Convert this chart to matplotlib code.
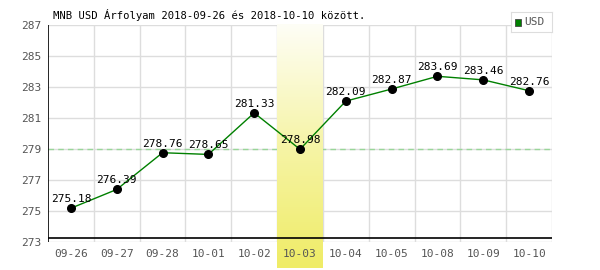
import numpy as np
import matplotlib
matplotlib.use('Agg')
import matplotlib.pyplot as plt
from matplotlib.colors import LinearSegmentedColormap

# Árfolyam adatok
dates = ['09-26', '09-27', '09-28', '10-01', '10-02', '10-03',
         '10-04', '10-05', '10-08', '10-09', '10-10']
usd = [275.18, 276.39, 278.76, 278.65, 281.33, 278.98,
       282.09, 282.87, 283.69, 283.46, 282.76]
yticks = [273, 275, 277, 279, 281, 283, 285, 287]
highlight = '10-03'
ref_level = 279

plt.rcParams['font.family'] = ['DejaVu Sans Mono']
FS = 7.6

fig = plt.figure(figsize=(6, 2.7), dpi=100)
ax = fig.add_axes([48/600, 1 - 242/270, 504/600, 217/270])

x = np.arange(len(dates))
ax.set_xlim(-0.5, len(dates) - 0.5)
ax.set_ylim(273, 287)

# rács
for yv in yticks:
    ax.axhline(yv, color='#dddddd', lw=1, zorder=1)
for i in range(len(dates)):
    ax.axvline(i + 0.5, color='#dddddd', lw=1, zorder=1)
ax.axhline(ref_level, color='#99d699', lw=1, ls=(0, (4, 3)), zorder=1.2)

# kiemelt nap sávja (színátmenet), a rács fölött
hi = dates.index(highlight)
cmap = LinearSegmentedColormap.from_list('hl', ['#fefef6', '#f6f4a6', '#efec66'])
grad = np.linspace(0, 1, 256).reshape(-1, 1)
ax.imshow(grad, cmap=cmap, aspect='auto', origin='upper',
          extent=(hi - 0.5, hi + 0.5, 271.3, 287), zorder=1.5, clip_on=False)

ax.axhline(273.25, color='black', lw=1.2, zorder=3)
ax.axvline(-0.5, color='black', lw=1.2, zorder=3)

for s in ax.spines.values():
    s.set_visible(False)

ax.plot(x, usd, color='#008000', lw=1, zorder=4)
ax.plot(x, usd, 'o', color='black', ms=5.5, zorder=5, label='USD')
for xi, v in zip(x, usd):
    ax.annotate(f'{v:.2f}', (xi, v), xytext=(0, 3), textcoords='offset points',
                ha='center', va='bottom', fontsize=FS + 0.4, color='black', zorder=6)

ax.set_xticks(x)
ax.set_xticklabels(dates)
ax.set_yticks(yticks)
ax.tick_params(length=0, labelsize=FS + 0.4, labelcolor='#555555', pad=5)

fig.text(53/600, 1 - 15/270, 'MNB USD Árfolyam 2018-09-26 és 2018-10-10 között.',
         fontsize=FS, va='center', ha='left', color='black')

# jelmagyarázat
leg_ax = fig.add_axes([511/600, 1 - 32/270, 41/600, 20/270])
leg_ax.set_xticks([])
leg_ax.set_yticks([])
for s in leg_ax.spines.values():
    s.set_color('#dddddd')
leg_ax.set_xlim(0, 41)
leg_ax.set_ylim(0, 20)
leg_ax.add_patch(plt.Rectangle((4, 6.5), 6, 7, facecolor='#008000', edgecolor='#444444', lw=0.6))
leg_ax.text(13, 10, 'USD', va='center', ha='left', fontsize=FS + 0.4, color='#555555')

fig.savefig('out.png', dpi=100)
